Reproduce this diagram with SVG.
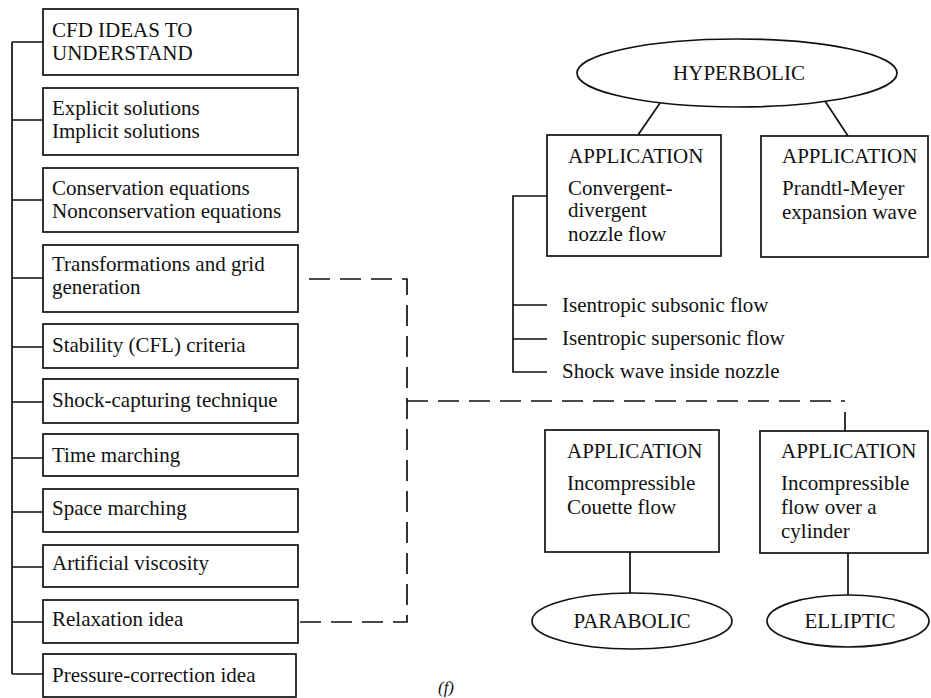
<svg xmlns="http://www.w3.org/2000/svg" width="931" height="698" viewBox="0 0 931 698">
<style>
.b{fill:#fff;stroke:#111;stroke-width:1.7}
.e{fill:#fff;stroke:#111;stroke-width:1.7}
.l{fill:none;stroke:#111;stroke-width:1.7}
.d{fill:none;stroke:#111;stroke-width:1.7;stroke-dasharray:21 10}
text{font-family:"Liberation Serif","Times New Roman",serif;font-size:21px;fill:#111}
.c{text-anchor:middle}
</style>
<rect width="931" height="698" fill="#fff"/>
<g id="connectors">
<path class="l" d="M12,42 V674 M12,42 H43 M12,120 H43 M12,200 H43 M12,278 H43 M12,347 H43 M12,402 H43 M12,458 H43 M12,512 H43 M12,567 H43 M12,622 H43 M12,674 H43"/>
<path class="d" d="M309,279 H407 V622 H298"/>
<path class="d" d="M407,401 H845"/>
<path class="l" d="M845,412 V431"/>
<path class="l" d="M660,103 L638,135 M825,101 L848,136"/>
<path class="l" d="M547,196 H513 V372 H547 M513,305 H547 M513,339 H547"/>
<path class="l" d="M630,552 V593 M848,553 V595"/>
</g>
<g id="n1"><rect class="b" x="43" y="9" width="255" height="66"/><text x="52" y="37">CFD IDEAS TO</text><text x="52" y="60">UNDERSTAND</text></g>
<g id="n2"><rect class="b" x="43" y="88" width="255" height="67"/><text x="52" y="115">Explicit solutions</text><text x="52" y="138">Implicit solutions</text></g>
<g id="n3"><rect class="b" x="43" y="168" width="255" height="64"/><text x="52" y="195">Conservation equations</text><text x="52" y="218">Nonconservation equations</text></g>
<g id="n4"><rect class="b" x="43" y="245" width="255" height="67"/><text x="52" y="271">Transformations and grid</text><text x="52" y="294">generation</text></g>
<g id="n5"><rect class="b" x="43" y="324" width="255" height="44"/><text x="52" y="352">Stability (CFL) criteria</text></g>
<g id="n6"><rect class="b" x="43" y="379" width="255" height="44"/><text x="52" y="407">Shock-capturing technique</text></g>
<g id="n7"><rect class="b" x="43" y="434" width="255" height="42"/><text x="52" y="462">Time marching</text></g>
<g id="n8"><rect class="b" x="43" y="489" width="255" height="43"/><text x="52" y="515">Space marching</text></g>
<g id="n9"><rect class="b" x="43" y="545" width="255" height="42"/><text x="52" y="570">Artificial viscosity</text></g>
<g id="n10"><rect class="b" x="43" y="600" width="255" height="43"/><text x="52" y="626">Relaxation idea</text></g>
<g id="n11"><rect class="b" x="43" y="654" width="253" height="43"/><text x="52" y="682">Pressure-correction idea</text></g>
<g id="hyperbolic"><ellipse class="e" cx="737" cy="73" rx="160" ry="34"/><text class="c" x="739" y="80">HYPERBOLIC</text></g>
<g id="app-nozzle"><rect class="b" x="547" y="135" width="174" height="121"/><text x="568" y="163">APPLICATION</text><text x="568" y="195">Convergent-</text><text x="568" y="217">divergent</text><text x="568" y="241">nozzle flow</text></g>
<g id="app-prandtl"><rect class="b" x="761" y="136" width="167" height="121"/><text x="782" y="163">APPLICATION</text><text x="782" y="195">Prandtl-Meyer</text><text x="782" y="219">expansion wave</text></g>
<g id="cases"><text x="562" y="312">Isentropic subsonic flow</text><text x="562" y="345">Isentropic supersonic flow</text><text x="562" y="378">Shock wave inside nozzle</text></g>
<g id="app-couette"><rect class="b" x="545" y="430" width="174" height="122"/><text x="567" y="458">APPLICATION</text><text x="567" y="490">Incompressible</text><text x="567" y="514">Couette flow</text></g>
<g id="app-cylinder"><rect class="b" x="760" y="431" width="168" height="122"/><text x="781" y="458">APPLICATION</text><text x="781" y="490">Incompressible</text><text x="781" y="514">flow over a</text><text x="781" y="538">cylinder</text></g>
<g id="parabolic"><ellipse class="e" cx="632" cy="621" rx="100" ry="28"/><text class="c" x="632" y="628">PARABOLIC</text></g>
<g id="elliptic"><ellipse class="e" cx="848" cy="621" rx="81" ry="26"/><text class="c" x="850" y="628">ELLIPTIC</text></g>
<text class="c" x="446" y="693" style="font-style:italic;font-size:17px">(f)</text>
</svg>
